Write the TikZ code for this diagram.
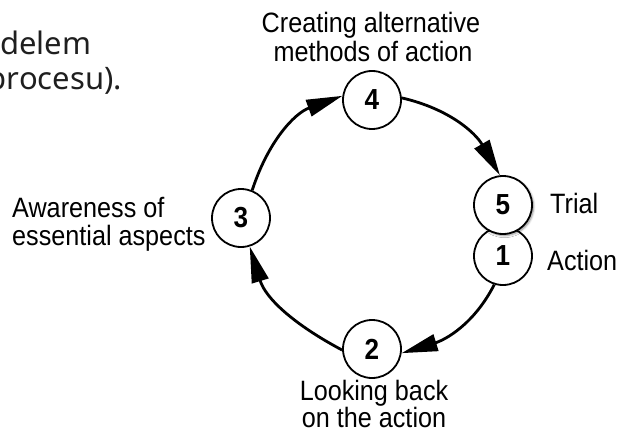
\documentclass[tikz,border=0pt]{standalone}
\usepackage{fontspec}
\setmainfont{Liberation Sans}
\newfontfamily\diagfont[FakeStretch=0.9]{Liberation Sans}
\newfontfamily\slidefont{Noto Sans}
\usetikzlibrary{arrows.meta,shadows.blur}
\begin{document}
\begin{tikzpicture}[x=1pt,y=1pt,
  stage/.style={circle,draw=black,line width=1.8pt,fill=white,minimum size=58pt,inner sep=0pt,
    font=\diagfont\fontsize{29}{29}\selectfont\bfseries},
  lbl/.style={font=\diagfont\fontsize{28}{29}\selectfont,inner sep=0pt},
  slide/.style={font=\slidefont\fontsize{31}{34}\selectfont,inner sep=0pt,text=black!88},
  flow/.style={line width=2.8pt,-{Triangle[length=36pt,width=17pt]}}]
\useasboundingbox (0,0) rectangle (621,432);
\clip (0,0) rectangle (621,432);
% slide fragment
\node[slide,anchor=base west] (s1) at (0,377) {delem};
\node[slide,anchor=base east] (s2) at (122,342) {procesu).};
% stages
\node[stage] (n4) at (372,332) {4};
\node[stage] (n3) at (241,214) {3};
\node[stage] (n2) at (372,83) {2};
\node[stage] (n1) at (503,176) {1};
\node[stage,blur shadow={shadow xshift=1.5pt,shadow yshift=-1.5pt,shadow blur steps=6,shadow opacity=45}] (n5) at (503,227) {5};
% connectors
\draw[flow] (n3.68) to[out=72,in=200] (n4.172);
\draw[flow] (n4.4) to[out=-13,in=120] (n5.96);
\draw[flow] (n1.253) to[out=-117,in=17] (n2.352);
\draw[flow] (n2.182) to[out=152,in=287] (n3.287);
% labels
\node[lbl,anchor=base] (t4a) at (371,399) {Creating alternative};
\node[lbl,anchor=base] (t4b) at (373,370) {methods of action};
\node[lbl,anchor=base west] (t3a) at (12,215) {Awareness of};
\node[lbl,anchor=base west] (t3b) at (12,187) {essential aspects};
\node[lbl,anchor=base west] (t5) at (550,219) {Trial};
\node[lbl,anchor=base west] (t1) at (547,162) {Action};
\node[lbl,anchor=base] (t2a) at (374,32) {Looking back};
\node[lbl,anchor=base] (t2b) at (374,5) {on the action};
\end{tikzpicture}
\end{document}
